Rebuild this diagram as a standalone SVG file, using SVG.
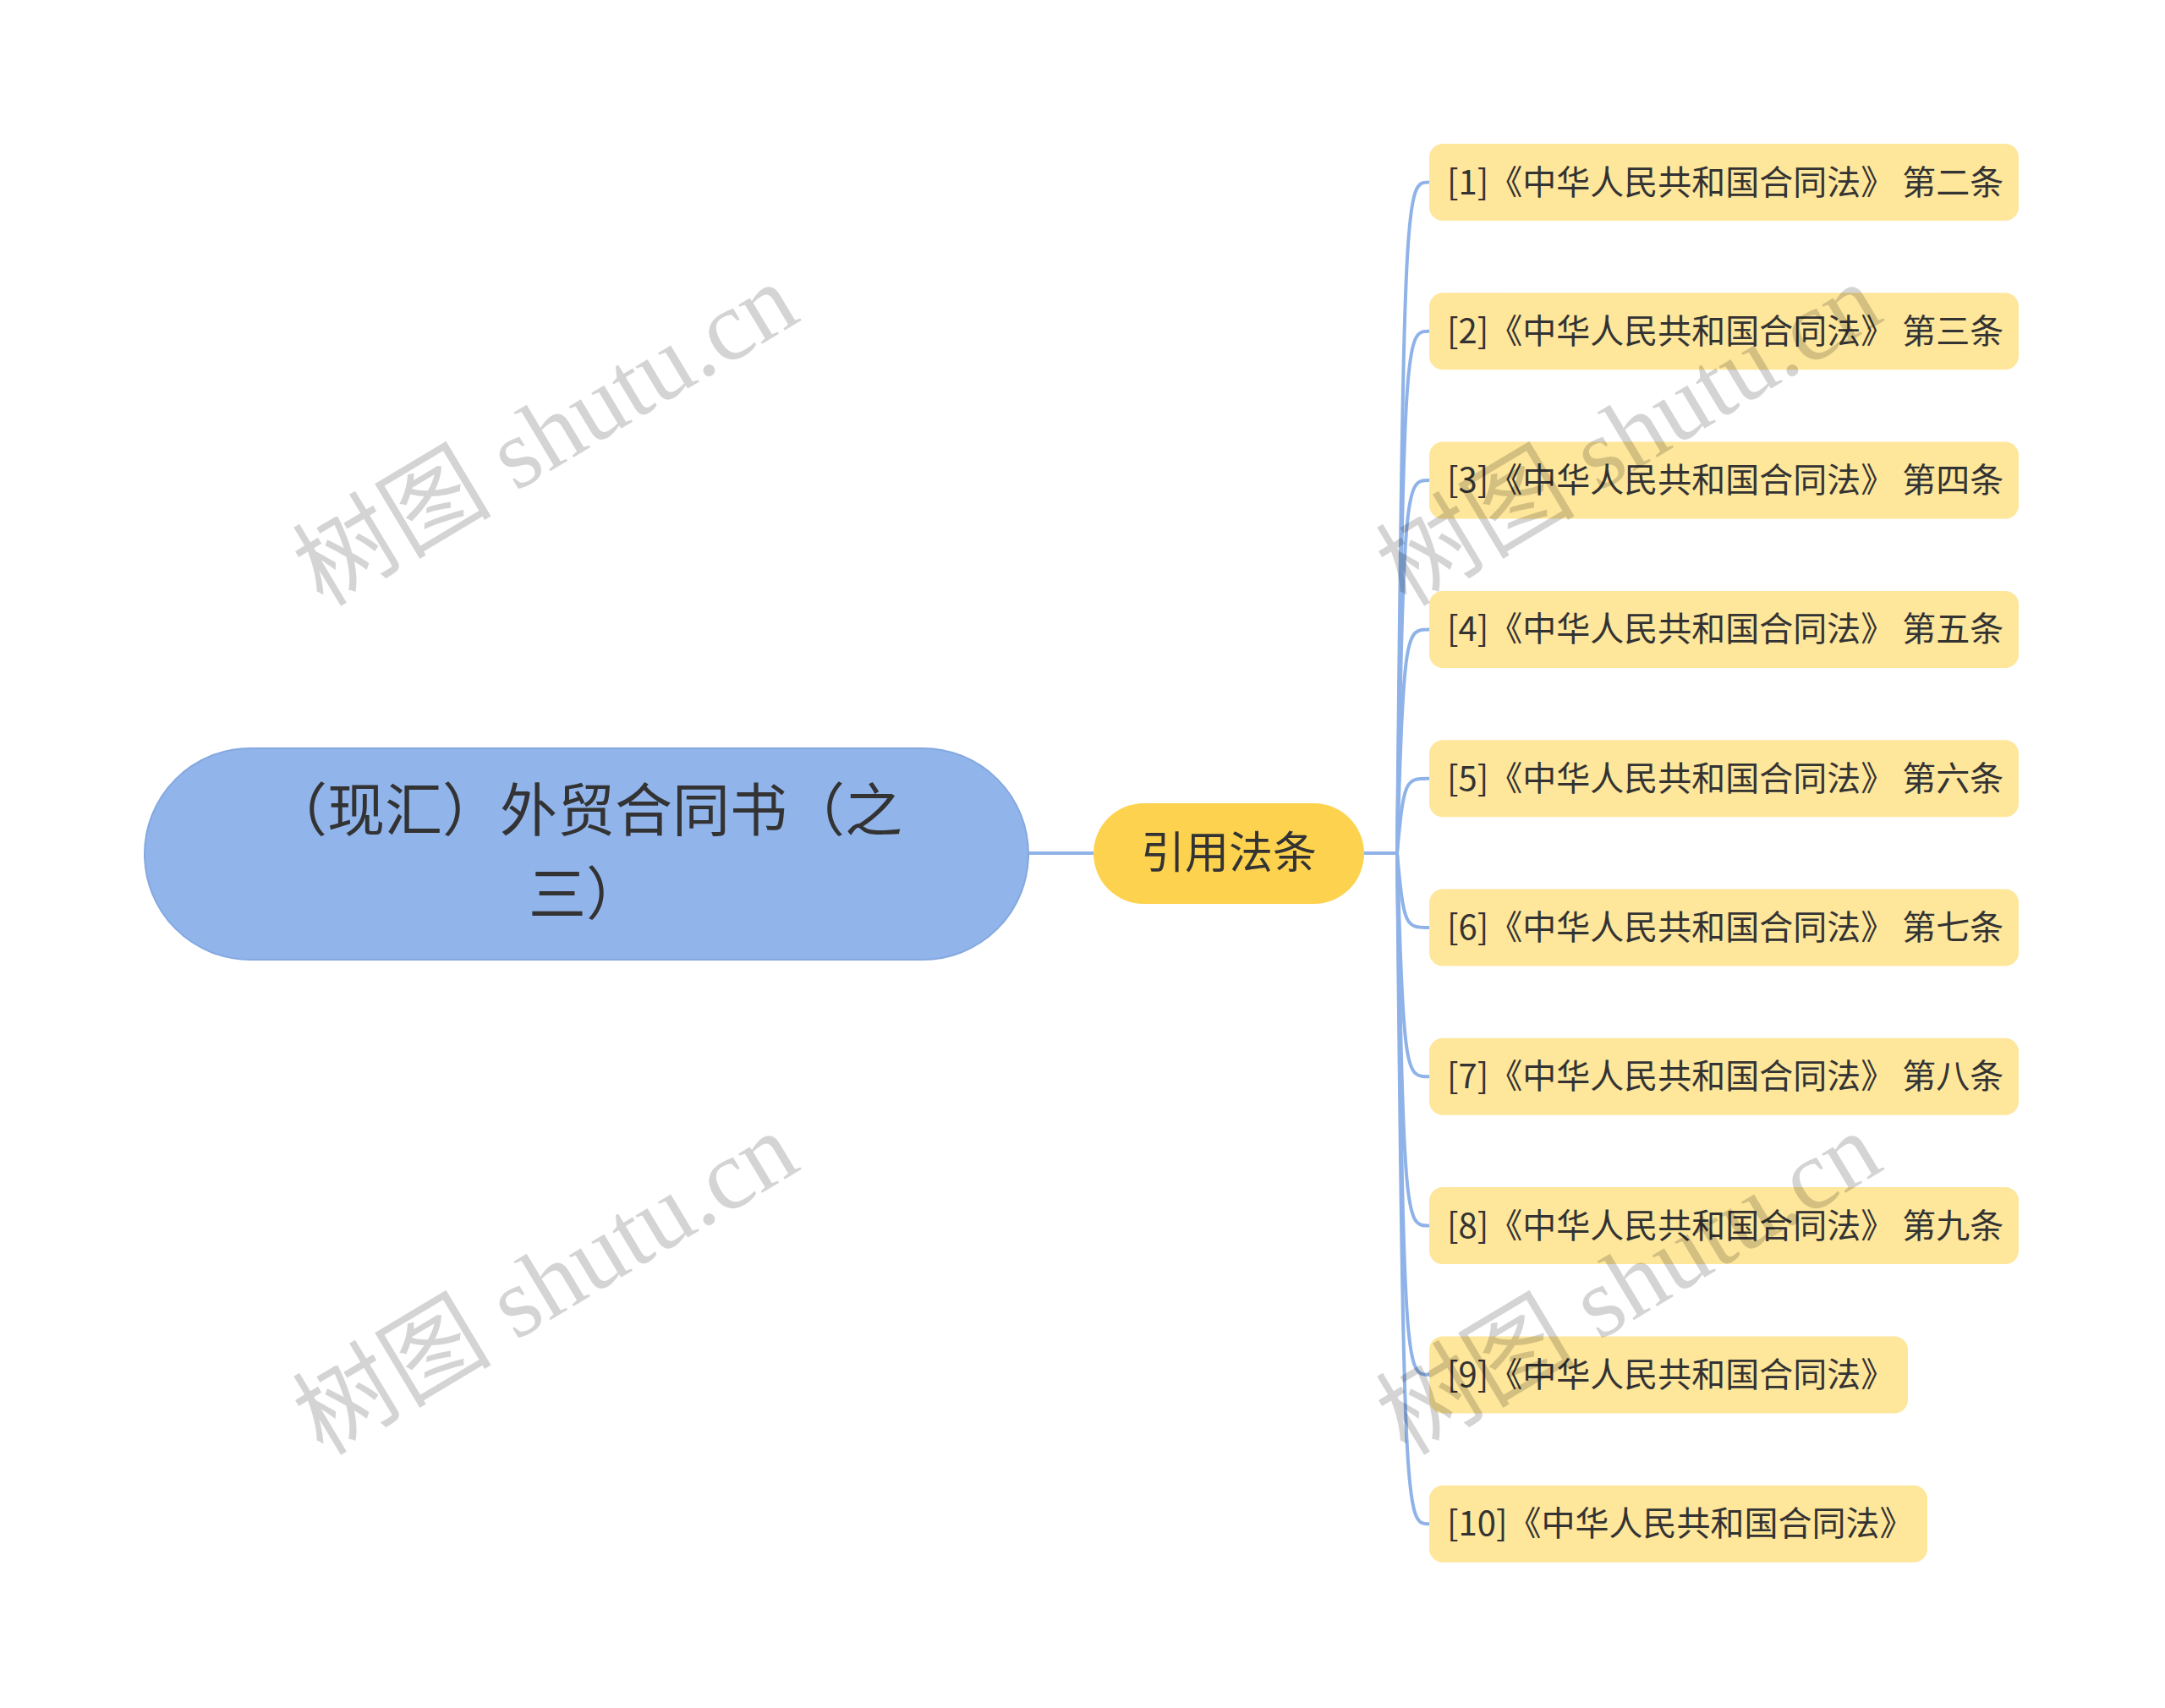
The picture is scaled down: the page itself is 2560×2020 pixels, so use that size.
<svg xmlns="http://www.w3.org/2000/svg" width="2560" height="2020" viewBox="0 0 2560 2020">
<style>
.cn{fill:none;stroke:#8fb3e8;stroke-width:4}
.leaf rect{fill:#fee69b}
.leaf text{font-family:"Noto Sans CJK SC","Noto Sans",sans-serif;font-size:40px;fill:#333}
.wm{font-family:"Liberation Serif","Noto Sans CJK SC",serif;font-size:118px;fill:#000;fill-opacity:0.17}
</style>
<rect width="2560" height="2020" fill="#ffffff"/>
<g id="connectors">
<line class="cn" x1="1216" y1="1009" x2="1293" y2="1009"/>
<line class="cn" x1="1613" y1="1009" x2="1652" y2="1009"/>
<path class="cn" d="M1652 1009 C1660 215.5 1662 215.5 1690 215.5"/>
<path class="cn" d="M1652 1009 C1660 391.8 1662 391.8 1690 391.8"/>
<path class="cn" d="M1652 1009 C1660 568.1 1662 568.1 1690 568.1"/>
<path class="cn" d="M1652 1009 C1660 744.4 1662 744.4 1690 744.4"/>
<path class="cn" d="M1652 1009 C1660 920.7 1662 920.7 1690 920.7"/>
<path class="cn" d="M1652 1009 C1660 1097 1662 1097 1690 1097"/>
<path class="cn" d="M1652 1009 C1660 1273.3 1662 1273.3 1690 1273.3"/>
<path class="cn" d="M1652 1009 C1660 1449.6 1662 1449.6 1690 1449.6"/>
<path class="cn" d="M1652 1009 C1660 1625.9 1662 1625.9 1690 1625.9"/>
<path class="cn" d="M1652 1009 C1660 1802.2 1662 1802.2 1690 1802.2"/>
</g>
<g id="root">
<rect x="171" y="885" width="1045" height="250" rx="125" fill="#91b4ea" stroke="#84a8e0" stroke-width="2"/>
<text text-anchor="middle" font-family="Noto Sans CJK SC,Noto Sans,sans-serif" font-size="68" fill="#333"><tspan x="693" y="983">（现汇）外贸合同书（之</tspan><tspan x="693" y="1082">三）</tspan></text>
</g>
<g id="n-yinyong">
<rect x="1293" y="950" width="320" height="119" rx="59.5" fill="#fdd24f"/>
<text x="1453" y="1027" text-anchor="middle" font-family="Noto Sans CJK SC,Noto Sans,sans-serif" font-size="52" fill="#333">引用法条</text>
</g>
<g id="leaf1" class="leaf"><rect x="1690" y="170" width="697" height="91" rx="16"/><text x="1711" y="229.5">[1]《中华人民共和国合同法》 第二条</text></g>
<g id="leaf2" class="leaf"><rect x="1690" y="346.3" width="697" height="91" rx="16"/><text x="1711" y="405.8">[2]《中华人民共和国合同法》 第三条</text></g>
<g id="leaf3" class="leaf"><rect x="1690" y="522.6" width="697" height="91" rx="16"/><text x="1711" y="582.1">[3]《中华人民共和国合同法》 第四条</text></g>
<g id="leaf4" class="leaf"><rect x="1690" y="698.9" width="697" height="91" rx="16"/><text x="1711" y="758.4">[4]《中华人民共和国合同法》 第五条</text></g>
<g id="leaf5" class="leaf"><rect x="1690" y="875.2" width="697" height="91" rx="16"/><text x="1711" y="934.7">[5]《中华人民共和国合同法》 第六条</text></g>
<g id="leaf6" class="leaf"><rect x="1690" y="1051.5" width="697" height="91" rx="16"/><text x="1711" y="1111">[6]《中华人民共和国合同法》 第七条</text></g>
<g id="leaf7" class="leaf"><rect x="1690" y="1227.8" width="697" height="91" rx="16"/><text x="1711" y="1287.3">[7]《中华人民共和国合同法》 第八条</text></g>
<g id="leaf8" class="leaf"><rect x="1690" y="1404.1" width="697" height="91" rx="16"/><text x="1711" y="1463.6">[8]《中华人民共和国合同法》 第九条</text></g>
<g id="leaf9" class="leaf"><rect x="1690" y="1580.4" width="566" height="91" rx="16"/><text x="1711" y="1639.9">[9]《中华人民共和国合同法》</text></g>
<g id="leaf10" class="leaf"><rect x="1690" y="1756.7" width="589" height="91" rx="16"/><text x="1711" y="1816.2">[10]《中华人民共和国合同法》</text></g>
<g id="watermarks">
<text class="wm" text-anchor="middle" transform="translate(645 514) rotate(-31)" y="40">树图 shutu.cn</text>
<text class="wm" text-anchor="middle" transform="translate(645 1518) rotate(-31)" y="40">树图 shutu.cn</text>
<text class="wm" text-anchor="middle" transform="translate(1926 514) rotate(-31)" y="40">树图 shutu.cn</text>
<text class="wm" text-anchor="middle" transform="translate(1926 1518) rotate(-31)" y="40">树图 shutu.cn</text>
</g>
</svg>
